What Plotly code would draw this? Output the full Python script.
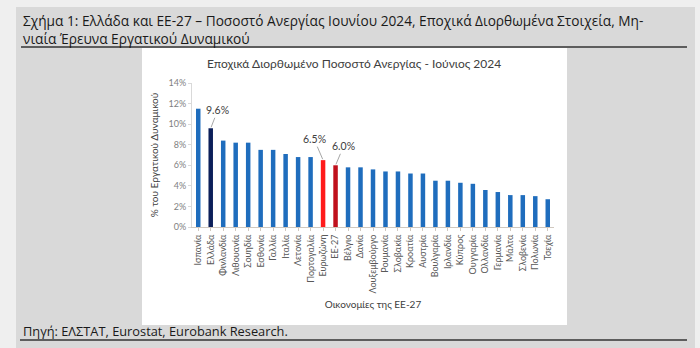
import plotly.graph_objects as go

# Unemployment rate, June 2024, seasonally adjusted (% of labour force)
countries = ["Ισπανία", "Ελλάδα", "Φινλανδία", "Λιθουανία", "Σουηδία", "Εσθονία",
             "Γαλλία", "Ιταλία", "Λετονία", "Πορτογαλία", "Ευρωζώνη", "ΕΕ-27",
             "Βέλγιο", "Δανία", "Λουξεμβούργο", "Ρουμανία", "Σλοβακία", "Κροατία",
             "Αυστρία", "Βουλγαρία", "Ιρλανδία", "Κύπρος", "Ουγγαρία", "Ολλανδία",
             "Γερμανία", "Μάλτα", "Σλοβενία", "Πολωνία", "Τσεχία"]
rates = [11.5, 9.6, 8.4, 8.2, 8.2, 7.5,
         7.5, 7.1, 6.8, 6.8, 6.5, 6.0,
         5.8, 5.8, 5.6, 5.4, 5.4, 5.2,
         5.2, 4.5, 4.5, 4.3, 4.2, 3.6,
         3.4, 3.1, 3.1, 3.0, 2.7]
labelled = ["Ελλάδα", "Ευρωζώνη", "ΕΕ-27"]
y_ticks = [0, 2, 4, 6, 8, 10, 12, 14]

BLUE = "#1f6dbd"
special = {"Ελλάδα": "#0c1f5a", "Ευρωζώνη": "#ff1a1a", "ΕΕ-27": "#c0101c"}
colors = [special.get(c, BLUE) for c in countries]

W, H = 700, 348
L, R, T, B = 192, 146, 83, 121          # plot-area margins in px
PW, PH = W - L - R, H - T - B


def px(x):
    return (x - L) / PW


def py(y):
    return (H - B - y) / PH


fig = go.Figure(go.Bar(
    x=countries, y=rates, marker_color=colors, marker_line_width=0, width=0.36,
))

shapes = [
    # grey panel
    dict(type="rect", xref="paper", yref="paper", x0=px(16), x1=px(695), y0=py(7), y1=py(349),
         fillcolor="#d9d9d9", line_width=0, layer="below"),
    # white chart area
    dict(type="rect", xref="paper", yref="paper", x0=px(142), x1=px(567), y0=py(48), y1=py(325),
         fillcolor="#ffffff", line_width=0, layer="below"),
    # rules under heading and source
    dict(type="line", xref="paper", yref="paper", x0=px(21), x1=px(687), y0=py(47), y1=py(47),
         line=dict(color="#333333", width=1.5)),
    dict(type="line", xref="paper", yref="paper", x0=px(20), x1=px(687), y0=py(340), y1=py(340),
         line=dict(color="#333333", width=1.5)),
]

HEAD_FONT = "Open Sans, Roboto, sans-serif"
CHART_FONT = "Lato, Noto Sans, sans-serif"

annotations = [
    dict(text="Σχήμα 1: Ελλάδα και ΕΕ-27 – Ποσοστό Ανεργίας Ιουνίου 2024, Εποχικά Διορθωμένα Στοιχεία, Μη-"
              "<br>νιαία Έρευνα Εργατικού Δυναμικού",
         xref="paper", yref="paper", x=px(21), y=py(29.5), xanchor="left", yanchor="middle",
         align="left", showarrow=False, font=dict(family=HEAD_FONT, size=13.7, color="#1a1a1a")),
    dict(text="Πηγή: ΕΛΣΤΑΤ, Eurostat, Eurobank Research.",
         xref="paper", yref="paper", x=px(21), y=py(331), xanchor="left", yanchor="middle",
         showarrow=False, font=dict(family=HEAD_FONT, size=12.8, color="#1a1a1a")),
    dict(text="Εποχικά Διορθωμένο Ποσοστό Ανεργίας - Ιούνιος 2024",
         xref="paper", yref="paper", x=px(354), y=py(63), xanchor="center", yanchor="middle",
         showarrow=False, font=dict(family=CHART_FONT, size=12, color="#404040")),
]

# value call-outs with leader lines
offsets = {"Ελλάδα": (7, -18), "Ευρωζώνη": (-9, -21), "ΕΕ-27": (8, -19)}
for name in labelled:
    v = rates[countries.index(name)]
    ax, ay = offsets[name]
    annotations.append(dict(
        x=name, y=v, xref="x", yref="y", text=f"{v:.1f}%", showarrow=True,
        arrowhead=0, arrowwidth=1, arrowcolor="#a6a6a6", ax=ax, ay=ay, standoff=1,
        font=dict(family=CHART_FONT, size=10.5, color="#404040"),
    ))

fig.update_layout(
    width=W, height=H,
    margin=dict(l=L, r=R, t=T, b=B, pad=0),
    paper_bgcolor="#efefef", plot_bgcolor="rgba(0,0,0,0)",
    showlegend=False, shapes=shapes, annotations=annotations,
    font=dict(family=CHART_FONT, color="#595959"),
)
fig.update_xaxes(
    type="category", range=[-0.5, len(countries) - 0.5], tickangle=-90,
    tickfont=dict(size=9, color="#595959"), showline=True, linecolor="#d0c8bf",
    ticks="outside", ticklen=3, tickcolor="#d0c8bf", showgrid=False,
    title=dict(text="Οικονομίες της ΕΕ-27", font=dict(size=10, color="#404040"), standoff=8),
)
fig.update_yaxes(
    range=[0, 14], tickvals=y_ticks, ticktext=[f"{t}%" for t in y_ticks],
    tickfont=dict(size=9, color="#7f7f7f"), showline=True, linecolor="#d9d9d9",
    ticks="outside", ticklen=3, tickcolor="#d9d9d9", showgrid=False, zeroline=False,
    title=dict(text="% του Εργατικού Δυναμικού", font=dict(size=10, color="#404040"), standoff=8),
)

fig.write_html("out.html")
